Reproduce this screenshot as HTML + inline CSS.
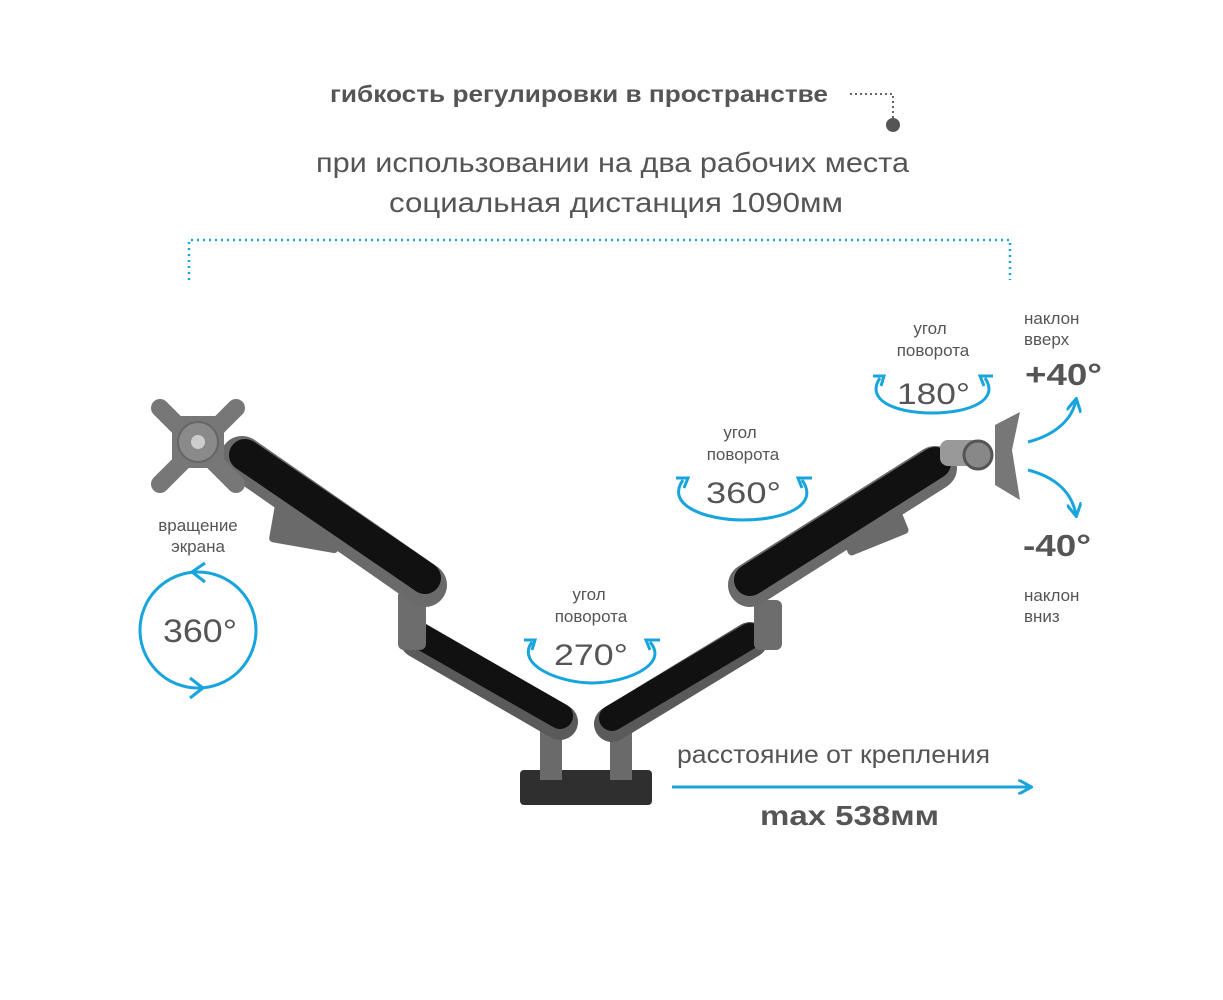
<!DOCTYPE html>
<html><head><meta charset="utf-8"><style>
body{margin:0;background:#fff}
svg{display:block}
text{font-family:"Liberation Sans",sans-serif;fill:#555}
</style></head><body>
<svg width="1223" height="1000" viewBox="0 0 1223 1000" xmlns="http://www.w3.org/2000/svg">
<defs>
<marker id="ah" viewBox="0 0 10 10" refX="8" refY="5" markerWidth="5" markerHeight="5" orient="auto"><path d="M0,0 L9,5 L0,10" fill="none" stroke="#18a4dd" stroke-width="2"/></marker>
</defs>
<text x="330" y="102" font-size="23" font-weight="bold" textLength="498" lengthAdjust="spacingAndGlyphs" fill="#555">гибкость регулировки в пространстве</text>
<path d="M850,94 H893 V118" fill="none" stroke="#666" stroke-width="2" stroke-dasharray="2,3"/>
<circle cx="893" cy="125" r="7" fill="#555"/>
<text x="316" y="172" font-size="28" textLength="593" lengthAdjust="spacingAndGlyphs" fill="#666">при использовании на два рабочих места</text>
<text x="389" y="212" font-size="28" textLength="454" lengthAdjust="spacingAndGlyphs" fill="#666">социальная дистанция 1090мм</text>
<path d="M189,280 V240 H1010 V280" fill="none" stroke="#18a4dd" stroke-width="2.5" stroke-dasharray="2,4"/>

<!-- base -->
<rect x="520" y="770" width="132" height="35" rx="4" fill="#2f2f2f"/>
<rect x="540" y="710" width="22" height="70" fill="#6a6a6a"/>
<rect x="610" y="710" width="22" height="70" fill="#6a6a6a"/>
<!-- left arm -->
<line x1="418" y1="640" x2="560" y2="722" stroke="#5a5a5a" stroke-width="36" stroke-linecap="round"/>
<line x1="420" y1="636" x2="560" y2="716" stroke="#111" stroke-width="26" stroke-linecap="round"/>
<rect x="398" y="590" width="28" height="60" rx="6" fill="#6d6d6d"/>
<rect x="272" y="503" width="70" height="45" rx="4" fill="#6a6a6a" transform="rotate(10 307 525)"/>
<line x1="242" y1="458" x2="425" y2="585" stroke="#6a6a6a" stroke-width="44" stroke-linecap="round"/>
<line x1="245" y1="455" x2="425" y2="578" stroke="#111" stroke-width="32" stroke-linecap="round"/>
<!-- plate -->
<g fill="#777">
<line x1="160" y1="408" x2="236" y2="484" stroke="#777" stroke-width="18" stroke-linecap="round"/>
<line x1="236" y1="408" x2="160" y2="484" stroke="#777" stroke-width="18" stroke-linecap="round"/>
<rect x="172" y="416" width="52" height="52" rx="8"/>
</g>
<circle cx="198" cy="442" r="20" fill="#8a8a8a" stroke="#666" stroke-width="2"/>
<circle cx="198" cy="442" r="7" fill="#ccc"/>
<!-- right arm -->
<line x1="612" y1="724" x2="750" y2="640" stroke="#5a5a5a" stroke-width="36" stroke-linecap="round"/>
<line x1="612" y1="718" x2="750" y2="636" stroke="#111" stroke-width="26" stroke-linecap="round"/>
<rect x="754" y="600" width="28" height="50" rx="6" fill="#6d6d6d"/>
<rect x="840" y="508" width="65" height="38" rx="4" fill="#6a6a6a" transform="rotate(-22 872 527)"/>
<line x1="750" y1="585" x2="935" y2="468" stroke="#6a6a6a" stroke-width="44" stroke-linecap="round"/>
<line x1="750" y1="580" x2="935" y2="463" stroke="#111" stroke-width="32" stroke-linecap="round"/>
<rect x="940" y="440" width="40" height="26" rx="8" fill="#999"/>
<circle cx="978" cy="455" r="14" fill="#888" stroke="#555" stroke-width="3"/>
<path d="M995,425 L1020,412 L1012,450 L1020,500 L995,485 Z" fill="#777"/>

<!-- left 360 circle -->
<circle cx="198" cy="630" r="58" fill="none" stroke="#18a4dd" stroke-width="3"/>
<path d="M205,563 L192,572 L205,582 M190,678 L203,688 L190,698" fill="none" stroke="#18a4dd" stroke-width="3"/>
<text x="163" y="642" font-size="32" textLength="74" lengthAdjust="spacingAndGlyphs" fill="#555">360°</text>
<text x="198" y="531" font-size="17" text-anchor="middle">вращение</text>
<text x="198" y="552" font-size="17" text-anchor="middle">экрана</text>

<!-- 270 -->
<text x="589" y="600" font-size="17" text-anchor="middle">угол</text>
<text x="591" y="622" font-size="17" text-anchor="middle">поворота</text>
<path d="M532,642 C515,665 560,683 592,683 C625,683 670,665 650,642" fill="none" stroke="#18a4dd" stroke-width="3"/>
<path d="M524,640 L535,640 L532,650 M660,640 L646,640 L650,650" fill="none" stroke="#18a4dd" stroke-width="3"/>
<text x="554" y="665" font-size="30" textLength="74" lengthAdjust="spacingAndGlyphs" fill="#555">270°</text>
<!-- 360 -->
<text x="740" y="438" font-size="17" text-anchor="middle">угол</text>
<text x="743" y="460" font-size="17" text-anchor="middle">поворота</text>
<path d="M683,480 C665,505 705,520 743,520 C785,520 820,505 802,480" fill="none" stroke="#18a4dd" stroke-width="3"/>
<path d="M676,478 L688,478 L684,488 M812,478 L798,478 L802,488" fill="none" stroke="#18a4dd" stroke-width="3"/>
<text x="706" y="503" font-size="30" textLength="75" lengthAdjust="spacingAndGlyphs" fill="#555">360°</text>
<!-- 180 -->
<text x="930" y="334" font-size="17" text-anchor="middle">угол</text>
<text x="933" y="356" font-size="17" text-anchor="middle">поворота</text>
<path d="M880,378 C865,400 895,413 932,413 C970,413 1000,400 985,378" fill="none" stroke="#18a4dd" stroke-width="3"/>
<path d="M873,376 L884,376 L881,386 M993,376 L980,376 L984,386" fill="none" stroke="#18a4dd" stroke-width="3"/>
<text x="897" y="404" font-size="30" textLength="73" lengthAdjust="spacingAndGlyphs" fill="#555">180°</text>
<!-- tilt -->
<text x="1024" y="324" font-size="17">наклон</text>
<text x="1024" y="345" font-size="17">вверх</text>
<text x="1025" y="385" font-size="31" font-weight="bold" textLength="77" lengthAdjust="spacingAndGlyphs" fill="#555">+40°</text>
<path d="M1028,442 C1055,435 1072,420 1076,400" fill="none" stroke="#18a4dd" stroke-width="3" marker-end="url(#ah)"/>
<path d="M1028,470 C1055,477 1072,492 1076,515" fill="none" stroke="#18a4dd" stroke-width="3" marker-end="url(#ah)"/>
<text x="1023" y="556" font-size="31" font-weight="bold" textLength="68" lengthAdjust="spacingAndGlyphs" fill="#555">-40°</text>
<text x="1024" y="601" font-size="17">наклон</text>
<text x="1024" y="622" font-size="17">вниз</text>
<!-- distance -->
<text x="677" y="763" font-size="25" textLength="313" lengthAdjust="spacingAndGlyphs" fill="#666">расстояние от крепления</text>
<line x1="672" y1="787" x2="1030" y2="787" stroke="#18a4dd" stroke-width="3" marker-end="url(#ah)"/>
<text x="760" y="825" font-size="28" font-weight="bold" textLength="179" lengthAdjust="spacingAndGlyphs" fill="#555">max 538мм</text>
</svg>
</body></html>
